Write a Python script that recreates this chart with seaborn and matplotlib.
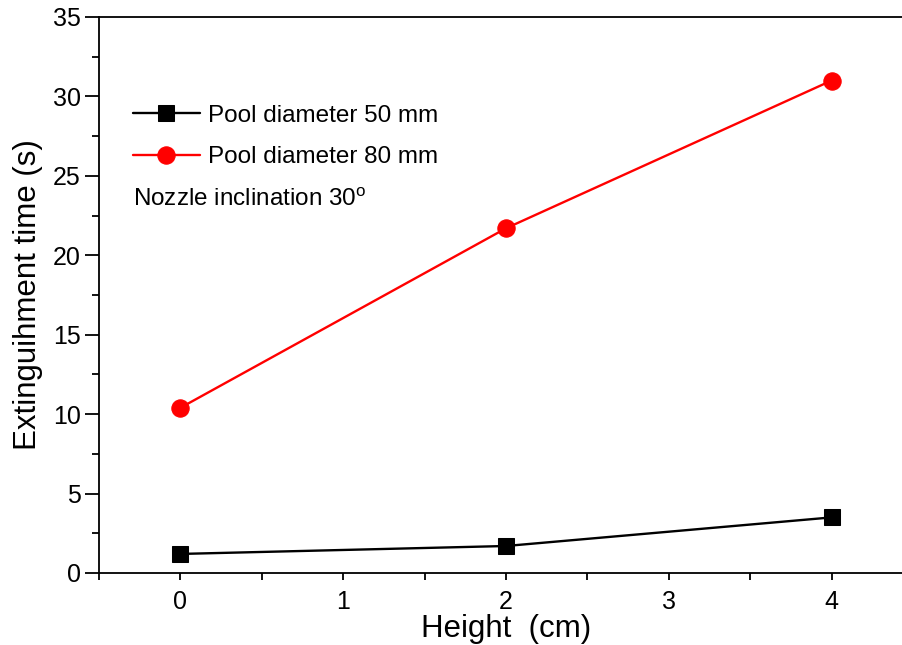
import matplotlib
matplotlib.use("Agg")
import matplotlib.pyplot as plt
from matplotlib.ticker import MultipleLocator
import seaborn as sns
import pandas as pd

sns.set_style("ticks")
plt.rcParams["font.family"] = ["Liberation Sans", "DejaVu Sans"]
plt.rcParams["mathtext.fontset"] = "custom"
plt.rcParams["mathtext.rm"] = "Liberation Sans"
for key in ["text.color", "axes.labelcolor", "xtick.color", "ytick.color", "axes.edgecolor"]:
    plt.rcParams[key] = "black"

heights = [0, 2, 4]
time_50mm = [1.2, 1.7, 3.5]
time_80mm = [10.4, 21.7, 31.0]
series_names = ["Pool diameter 50 mm", "Pool diameter 80 mm"]

df = pd.DataFrame({
    "height": heights * 2,
    "time": time_50mm + time_80mm,
    "series": [series_names[0]] * 3 + [series_names[1]] * 3,
})

fig = plt.figure(figsize=(9.02, 6.45), dpi=100)
ax = fig.add_axes([99 / 902, 72 / 645, (913 - 99) / 902, (573 - 17) / 645])

styles = {
    series_names[0]: dict(color="black", marker="s", markersize=11),
    series_names[1]: dict(color="#ff0000", marker="o", markersize=12.5),
}
for name in series_names:
    st = styles[name]
    sns.lineplot(data=df[df["series"] == name], x="height", y="time", ax=ax,
                 color=st["color"], marker=st["marker"], markersize=st["markersize"],
                 markeredgecolor=st["color"], markerfacecolor=st["color"],
                 linewidth=1.7, label=name)

ax.set_xlim(-0.5, 4.5)
ax.set_ylim(0, 35)
ax.xaxis.set_major_locator(MultipleLocator(1))
ax.xaxis.set_minor_locator(MultipleLocator(0.5))
ax.yaxis.set_major_locator(MultipleLocator(5))
ax.yaxis.set_minor_locator(MultipleLocator(2.5))
ax.tick_params(axis="both", which="major", direction="out", labelsize=18, width=1.3, color="black")
ax.tick_params(axis="x", which="major", length=5, pad=7)
ax.tick_params(axis="y", which="major", length=10, pad=3)
ax.tick_params(axis="both", which="minor", direction="out", length=5, width=1.3, color="black")

for side in ["top", "right", "left", "bottom"]:
    ax.spines[side].set_visible(True)
    ax.spines[side].set_color("black")
    ax.spines[side].set_linewidth(1.3)

ax.set_xlabel("Height  (cm)", fontsize=22.5, labelpad=0)
ax.set_ylabel("Extinguihment time (s)", fontsize=22.5, labelpad=7)

ax.legend(loc="upper left", bbox_to_anchor=(0.0418, 0.842), frameon=False,
          fontsize=17.5, handlelength=2.75, handletextpad=0.33, labelspacing=0.8,
          borderaxespad=0, borderpad=0)
ax.text(0.0418, 0.672, r"Nozzle inclination 30$^{\mathregular{o}}$",
        transform=ax.transAxes, fontsize=17.5, va="center", ha="left")

fig.savefig("out.png", dpi=100)
